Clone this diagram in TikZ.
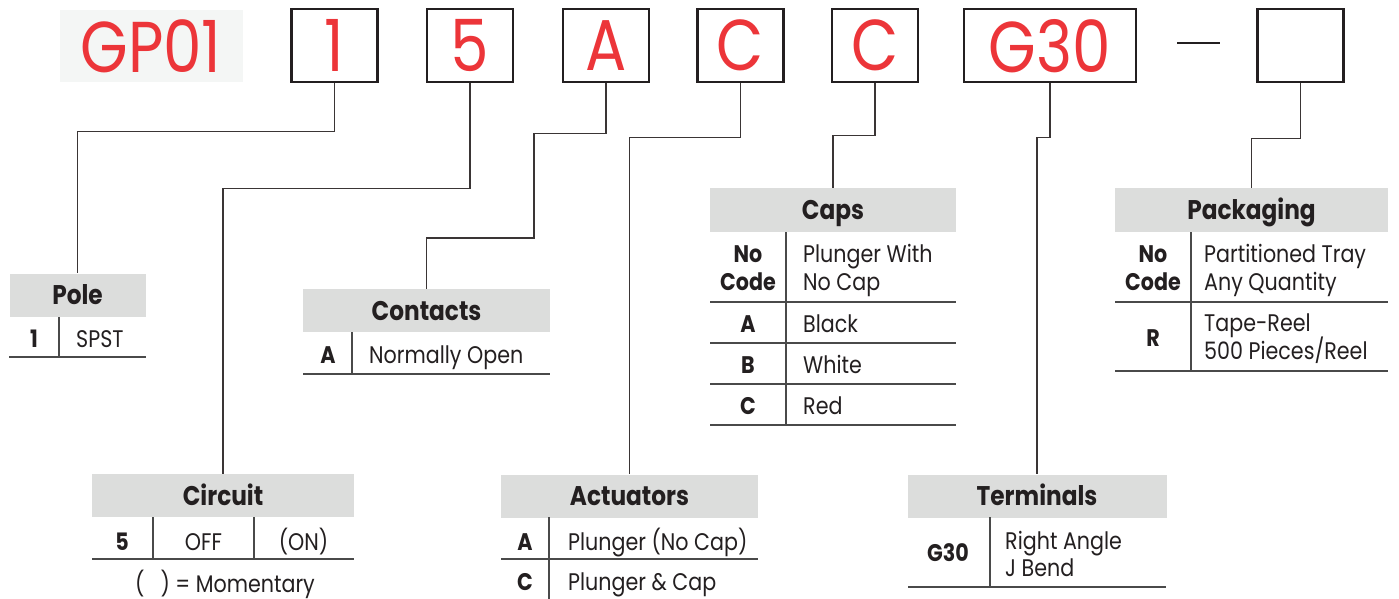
\documentclass[tikz,border=0pt]{standalone}
\usepackage{fontspec}
\setmainfont[FakeStretch=0.86]{Poppins}
\newfontfamily\titlefont[FakeStretch=0.85]{Poppins}
\definecolor{txtc}{HTML}{231F20}
\definecolor{hdrc}{HTML}{DCDDDC}
\definecolor{rulec}{HTML}{4A4A4A}
\definecolor{connc}{HTML}{3A3535}
\definecolor{redc}{HTML}{EC3539}
\definecolor{bggc}{HTML}{F4F6F5}
\definecolor{boxc}{HTML}{231F20}
\begin{document}
\begin{tikzpicture}[x=1pt,y=-1pt,
  codebox/.style={draw=boxc, line width=2.6pt, minimum width=86pt, minimum height=73pt, inner sep=0pt, text=redc, font=\titlefont\fontsize{72}{72}\selectfont, text depth=0pt},
  hdr/.style={fill=hdrc, inner sep=0pt, minimum height=43pt, text height=19pt, text depth=0pt, font=\bfseries\fontsize{27}{32}\selectfont, text=txtc},
  conn/.style={draw=connc, line width=1.3pt},
  rl/.style={draw=rulec, line width=1.6pt},
  bt/.style={inner sep=0pt, anchor=base west, font=\fontsize{24}{28}\selectfont, text=txtc},
  bm/.style={inner sep=0pt, anchor=base, font=\fontsize{24}{28}\selectfont, text=txtc},
  bc/.style={inner sep=0pt, anchor=base, font=\bfseries\fontsize{24}{28}\selectfont, text=txtc}
]
\useasboundingbox (0,0) rectangle (1399,599);

% top code row
\node[fill=bggc, minimum width=183pt, minimum height=72pt, inner sep=0pt, text=redc, text depth=0pt, font=\titlefont\fontsize{72}{72}\selectfont] (gp) at (151,46) {GP01};
\node[codebox] (b1) at (334.5,45.5) {1};
\node[codebox] (b5) at (470,45.5) {5};
\node[codebox] (bA) at (606,45.5) {A};
\node[codebox] (bC) at (740.5,45.5) {C};
\node[codebox] (bC2) at (875,45.5) {C};
\node[codebox, minimum width=172pt] (bG) at (1050,45.5) {G30};
\draw[boxc, line width=2.6pt] (1177,43) -- (1220,43);
\node[codebox] (bE) at (1300.5,45.5) {};

% Pole
\node[hdr, minimum width=136pt] (pole) at (77.5,295) {Pole};
\node[bc] (pole1) at (34,347) {1};
\node[bt] (pole1d) at (76,347) {SPST};
\draw[rl] (9,357) -- (146,357);
\draw[rl] (59,317) -- (59,357);

% Contacts
\node[hdr, minimum width=247pt] (cont) at (426.5,310.5) {Contacts};
\node[bc] (contA) at (328,363) {A};
\node[bt] (contAd) at (369,363) {Normally Open};
\draw[rl] (303,374) -- (550,374);
\draw[rl] (352,332) -- (352,374);

% Circuit
\node[hdr, minimum width=262pt] (circ) at (223,495.5) {Circuit};
\node[bc] (circ5) at (122,550) {5};
\node[bm] (circoff) at (203.5,550) {OFF};
\node[bm] (circon) at (303.5,550) {(ON)};
\draw[rl] (92,559) -- (354,559);
\draw[rl] (153,517) -- (153,559);
\draw[rl] (254,517) -- (254,559);
\node[bm] (circm) at (225,592) {(\hspace{16pt}) = Momentary};

% Actuators
\node[hdr, minimum width=257pt] (act) at (629.5,496) {Actuators};
\node[bc] (actA) at (525,550) {A};
\node[bt] (actAd) at (568,550) {Plunger (No Cap)};
\node[bc] (actC) at (525,590) {C};
\node[bt] (actCd) at (568,590) {Plunger \& Cap};
\draw[rl] (501,559) -- (758,559);
\draw[rl] (549,517) -- (549,599);

% Caps
\node[hdr, minimum width=246pt, minimum height=44pt] (caps) at (833,210) {Caps};
\node[bc] (capsN1) at (748,262) {No};
\node[bc] (capsN2) at (748,290) {Code};
\node[bt] (capsD1) at (803,262) {Plunger With};
\node[bt] (capsD2) at (803,290) {No Cap};
\node[bc] (capsA) at (748,332) {A};
\node[bt] (capsAd) at (803,332) {Black};
\node[bc] (capsB) at (748,373) {B};
\node[bt] (capsBd) at (803,373) {White};
\node[bc] (capsC) at (748,414) {C};
\node[bt] (capsCd) at (803,414) {Red};
\draw[rl] (710,302) -- (956,302);
\draw[rl] (710,343) -- (956,343);
\draw[rl] (710,384) -- (956,384);
\draw[rl] (710,425) -- (956,425);
\draw[rl] (786,232) -- (786,425);

% Packaging
\node[hdr, minimum width=273pt, minimum height=44pt] (pack) at (1251.5,210) {Packaging};
\node[bc] (packN1) at (1153,262) {No};
\node[bc] (packN2) at (1153,290) {Code};
\node[bt] (packD1) at (1204,262) {Partitioned Tray};
\node[bt] (packD2) at (1204,290) {Any Quantity};
\node[bc] (packR) at (1153,346) {R};
\node[bt] (packR1) at (1204,331) {Tape-Reel};
\node[bt] (packR2) at (1204,359) {500 Pieces/Reel};
\draw[rl] (1115,302) -- (1388,302);
\draw[rl] (1115,371) -- (1388,371);
\draw[rl] (1191,232) -- (1191,371);

% Terminals
\node[hdr, minimum width=259pt] (term) at (1037,496) {Terminals};
\node[bc] (termG) at (948,561) {G30};
\node[bt] (termD1) at (1005,549) {Right Angle};
\node[bt] (termD2) at (1005,576) {J Bend};
\draw[rl] (908,587) -- (1166,587);
\draw[rl] (990,517) -- (990,587);

% connectors
\coordinate (kA) at (534,238);
\draw[conn] (b1.south) -- ++(0,48) -| (pole.north);
\draw[conn] (b5.south) -- ++(0,105) -| (circ.north);
\draw[conn] (bA.south) -- ++(0,50) -| (kA) -| (cont.north);
\draw[conn] (bC.south) -- ++(0,54) -| (act.north);
\draw[conn] (bC2.south) -- ++(0,52) -| (caps.north);
\draw[conn] (bG.south) -- ++(0,54) -| (term.north);
\draw[conn] (bE.south) -- ++(0,55) -| (pack.north);
\end{tikzpicture}
\end{document}
